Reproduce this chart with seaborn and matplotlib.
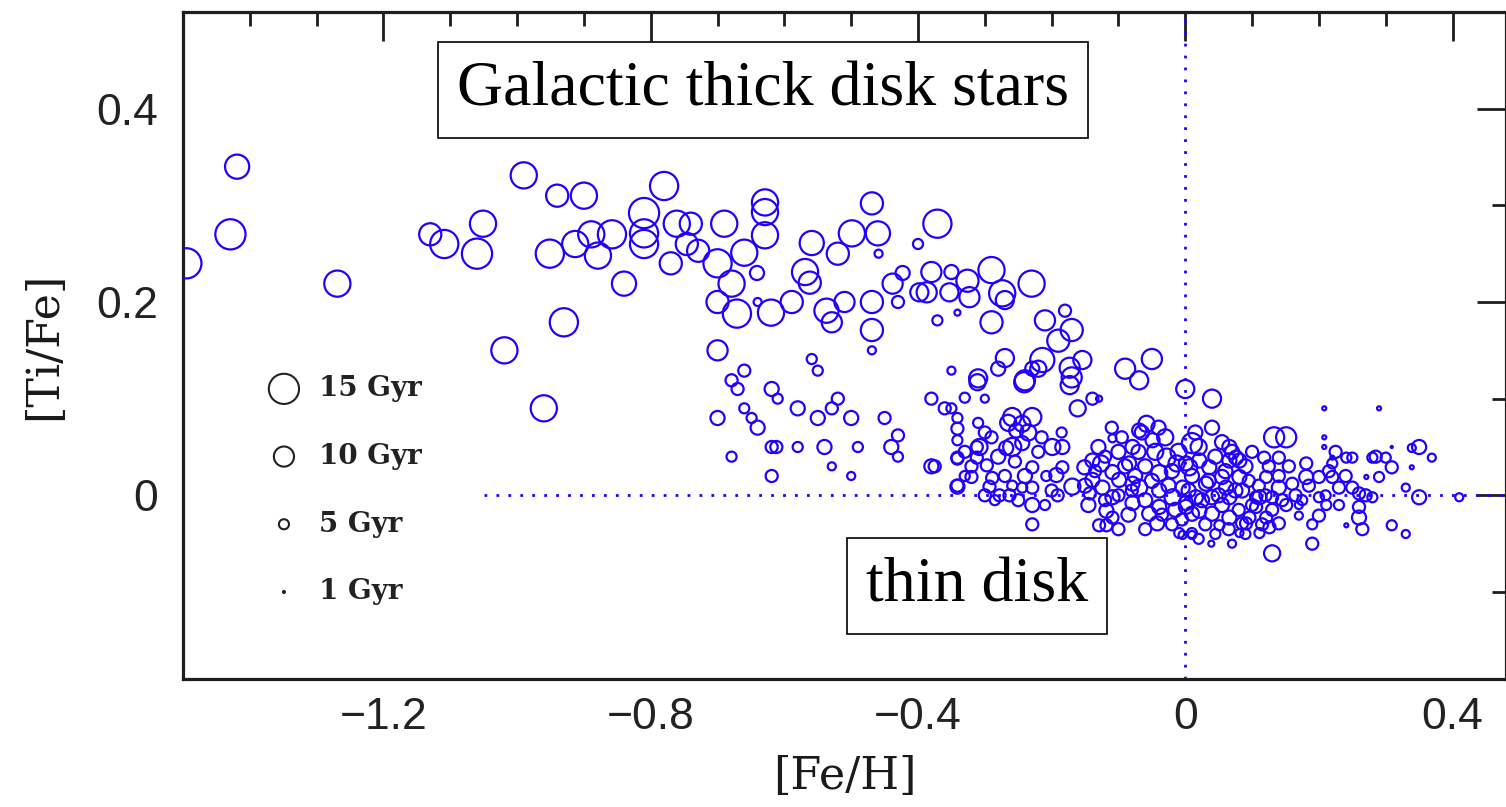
import numpy as np
import pandas as pd
import matplotlib
matplotlib.use("Agg")
import matplotlib.pyplot as plt
from matplotlib.ticker import MultipleLocator, FuncFormatter
import seaborn as sns

# ---------------- data ----------------
# [Fe/H], [Ti/Fe], age in Gyr (symbol size)
feh = [
    -1.495, -1.429, -1.419, -1.269, -1.130, -1.109, -1.051, -1.060, -1.019, -0.990,
    -0.940, -0.900, -0.951, -0.913, -0.889, -0.879, -0.858, -0.840, -0.930, -0.960,
    -0.780, -0.810, -0.810, -0.810, -0.761, -0.740, -0.746, -0.729, -0.770, -0.690,
    -0.700, -0.679, -0.700, -0.671, -0.660, -0.629, -0.629, -0.629, -0.641, -0.620,
    -0.640, -0.589, -0.569, -0.559, -0.562, -0.537, -0.529, -0.520, -0.510, -0.499,
    -0.469, -0.460, -0.459, -0.469, -0.469, -0.469, -0.371, -0.400, -0.438, -0.423,
    -0.398, -0.380, -0.387, -0.350, -0.353, -0.326, -0.323, -0.290, -0.274, -0.290,
    -0.230, -0.270, -0.341, -0.371, -0.430, -0.700,
    -0.210, -0.180, -0.170, -0.190, -0.214, -0.220, -0.173, -0.170, -0.154, -0.173,
    -0.270, -0.280, -0.310, -0.240, -0.229, -0.350, -0.090, -0.069, -0.050, 0.000,
    0.040, 0.040, -0.380, -0.360, -0.350, -0.300, -0.330, -0.139, -0.129, -0.161,
    -0.660, -0.679, -0.670, -0.619, -0.610, -0.559, -0.550, -0.580, -0.520, -0.529,
    -0.550, -0.500, -0.450, -0.700, -0.660, -0.649, -0.640, -0.679, -0.619, -0.612,
    -0.580, -0.540, -0.490, -0.529, -0.619, -0.500, -0.440, -0.430, -0.430, -0.380,
    -0.375, -0.341, -0.341, -0.341, -0.312,
    -0.311, -0.241, -0.259, -0.229, -0.244, -0.253, -0.341, -0.341, -0.308, -0.290,
    -0.259, -0.268, -0.244, -0.199, -0.184, -0.341, -0.312, -0.297, -0.229, -0.320,
    -0.289, -0.341, -0.293, -0.278, -0.263, -0.259, -0.229, -0.244, -0.229, -0.229,
    -0.193, -0.184, -0.169, -0.191, -0.208, -0.151, -0.139, -0.126, -0.109, -0.109,
    -0.139, -0.124, -0.143, -0.109, -0.099, -0.084, -0.079, -0.069, -0.058, -0.049,
    -0.028, -0.039, -0.069, -0.079, -0.118, -0.109, -0.129, -0.118, -0.054, -0.039,
    -0.019, -0.004, 0.001, 0.010, 0.010, -0.042, -0.009, 0.010, -0.013, 0.006,
    -0.039, -0.079, -0.100,
    0.133, 0.151, 0.118, 0.140, 0.208, 0.290, 0.208, 0.208, 0.220, 0.241,
    0.250, 0.280, 0.300, 0.309, 0.350, 0.339, 0.369, 0.309, 0.339, 0.290,
    0.271, 0.330, 0.350, 0.410, 0.309, 0.330, 0.241, 0.260, 0.260, 0.260,
    0.250, 0.280, 0.230, 0.220, 0.200, 0.181, 0.181, 0.220, 0.200, 0.211,
    0.200, 0.190, 0.170, 0.170, 0.151, 0.160, 0.140, 0.121, 0.111, 0.130,
    0.140, 0.130, 0.111, 0.070, 0.039, 0.081, 0.091, 0.051, 0.010, -0.004,
    0.066, 0.076, 0.066, 0.081, 0.021, 0.036, 0.001, 0.055, 0.081, 0.031,
    0.061, 0.085, 0.106, 0.106, 0.096, 0.121, 0.126, 0.016, 0.040, 0.066,
    0.001, 0.021, 0.040, 0.066, 0.085,
    # dense thin-disk clump
    -0.330, -0.320, -0.300, -0.280, -0.270, -0.255, -0.240, -0.220, -0.215, -0.300,
    -0.285, -0.250, -0.200, -0.210, -0.330, -0.235, -0.265, -0.310, -0.185,
    -0.150, -0.145, -0.130, -0.120, -0.100, -0.095, -0.090, -0.085, -0.075, -0.070,
    -0.060, -0.060, -0.050, -0.045, -0.035, -0.030, -0.025, -0.020, -0.015, -0.010,
    -0.005, -0.100, -0.120, -0.135, -0.065, -0.040, -0.020, -0.060, -0.080, -0.110,
    0.005, 0.010, 0.020, 0.025, 0.030, 0.035, 0.045, 0.050, 0.055, 0.060,
    0.065, 0.070, 0.075, 0.080, 0.090, 0.095, 0.100, 0.100, 0.110, 0.115,
    0.120, 0.125, 0.130, 0.140, 0.145, 0.020, 0.045, 0.015, 0.055, 0.090,
    0.155, 0.165, 0.175, 0.185, 0.190, 0.210, 0.215, 0.230, 0.240, 0.265,
    0.270, 0.285, 0.225,
]
tife = [
    0.240, 0.270, 0.340, 0.219, 0.270, 0.260, 0.281, 0.250, 0.150, 0.331,
    0.310, 0.310, 0.250, 0.260, 0.270, 0.248, 0.270, 0.219, 0.179, 0.090,
    0.320, 0.292, 0.271, 0.260, 0.281, 0.281, 0.260, 0.253, 0.240, 0.281,
    0.240, 0.219, 0.200, 0.188, 0.251, 0.303, 0.293, 0.269, 0.230, 0.189,
    0.200, 0.200, 0.231, 0.261, 0.220, 0.191, 0.179, 0.250, 0.200, 0.271,
    0.302, 0.271, 0.250, 0.200, 0.171, 0.150, 0.281, 0.260, 0.219, 0.230,
    0.210, 0.231, 0.210, 0.231, 0.210, 0.222, 0.205, 0.233, 0.209, 0.179,
    0.219, 0.202, 0.189, 0.181, 0.200, 0.150,
    0.181, 0.191, 0.171, 0.160, 0.140, 0.131, 0.132, 0.122, 0.140, 0.114,
    0.142, 0.131, 0.121, 0.119, 0.131, 0.129, 0.131, 0.119, 0.141, 0.110,
    0.100, 0.070, 0.100, 0.090, 0.090, 0.100, 0.101, 0.100, 0.100, 0.090,
    0.129, 0.119, 0.110, 0.110, 0.100, 0.141, 0.129, 0.090, 0.100, 0.090,
    0.080, 0.080, 0.080, 0.080, 0.090, 0.080, 0.070, 0.040, 0.050, 0.050,
    0.050, 0.050, 0.050, 0.030, 0.020, 0.020, 0.050, 0.062, 0.040, 0.030,
    0.030, 0.080, 0.038, 0.010, 0.050,
    0.117, 0.117, 0.081, 0.081, 0.074, 0.067, 0.069, 0.057, 0.050, 0.060,
    0.050, 0.049, 0.054, 0.050, 0.050, 0.039, 0.039, 0.031, 0.029, 0.019,
    0.018, 0.009, 0.009, 0.000, 0.000, 0.010, 0.008, 0.008, -0.010, -0.030,
    0.021, 0.029, 0.009, 0.000, 0.020, 0.029, 0.036, 0.033, 0.024, 0.059,
    0.016, 0.008, 0.002, -0.002, 0.016, 0.033, 0.050, 0.067, 0.074, 0.057,
    0.039, 0.023, 0.008, -0.008, -0.016, -0.023, -0.031, -0.031, -0.019, -0.012,
    -0.002, 0.008, -0.012, 0.054, -0.019, -0.029, -0.039, -0.039, 0.033, 0.029,
    0.005, 0.012, -0.035,
    0.060, 0.060, 0.039, 0.039, 0.090, 0.090, 0.060, 0.050, 0.039, 0.039,
    0.039, 0.039, 0.039, 0.050, 0.050, 0.049, 0.039, 0.029, 0.029, 0.019,
    0.019, 0.008, -0.002, -0.002, -0.031, -0.040, -0.031, -0.023, -0.012, 0.002,
    0.008, -0.002, 0.008, 0.019, 0.019, 0.019, 0.033, 0.033, -0.002, -0.010,
    -0.021, -0.050, -0.010, -0.021, -0.010, 0.012, 0.008, 0.019, -0.002, -0.002,
    -0.029, -0.060, -0.039, -0.050, -0.050, -0.039, -0.029, -0.031, -0.041, -0.041,
    0.050, 0.039, 0.036, 0.036, 0.036, 0.029, 0.033, 0.019, 0.019, 0.012,
    0.008, 0.005, -0.002, -0.012, -0.023, -0.023, -0.033, -0.002, -0.002, -0.002,
    -0.008, -0.016, -0.019, -0.023, -0.029,
    # dense thin-disk clump
    0.045, 0.030, 0.065, 0.040, 0.020, 0.035, 0.020, 0.045, 0.060, 0.000,
    -0.005, -0.005, 0.005, -0.010, 0.020, 0.065, 0.075, 0.075, 0.065,
    0.010, -0.010, 0.050, 0.040, 0.045, 0.060, 0.030, -0.020, 0.020, 0.045,
    0.030, -0.005, 0.015, 0.045, -0.020, 0.060, 0.010, 0.025, -0.015, 0.045,
    -0.025, 0.000, -0.005, 0.025, 0.065, 0.070, -0.030, -0.035, 0.005, 0.070,
    0.005, 0.020, 0.050, -0.005, -0.030, 0.015, 0.040, 0.000, -0.010, 0.025,
    -0.035, 0.045, 0.005, -0.015, 0.030, 0.015, -0.010, 0.045, 0.010, -0.030,
    0.000, 0.030, -0.015, 0.020, -0.005, -0.045, -0.040, 0.065, 0.055, -0.040,
    0.030, 0.000, -0.005, 0.010, -0.030, 0.000, 0.025, -0.010, 0.020, -0.035,
    0.000, 0.040, 0.045,
]
age = [
    15, 15, 12, 13, 11, 14, 13, 15, 13, 13,
    11, 13, 14, 13, 13, 13, 14, 12, 14, 13,
    14, 15, 14, 14, 13, 11, 11, 11, 11, 13,
    14, 13, 11, 14, 13, 13, 13, 13, 7, 13,
    4, 11, 13, 12, 11, 12, 10, 11, 10, 13,
    11, 12, 4, 11, 11, 4, 14, 5, 10, 7,
    9, 10, 10, 7, 9, 11, 10, 13, 13, 11,
    13, 9, 3, 5, 6, 10,
    10, 6, 11, 11, 12, 8, 10, 10, 9, 9,
    9, 7, 9, 10, 7, 4, 10, 9, 10, 9,
    9, 7, 6, 6, 5, 4, 5, 6, 3, 8,
    6, 6, 6, 7, 5, 5, 5, 7, 6, 6,
    7, 7, 6, 7, 5, 5, 7, 5, 6, 6,
    5, 7, 5, 4, 6, 4, 7, 6, 5, 7,
    6, 5, 6, 6, 6,
    8, 10, 9, 9, 8, 7, 6, 5, 8, 6,
    9, 7, 7, 8, 7, 6, 6, 6, 6, 6,
    6, 7, 6, 6, 6, 5, 6, 5, 7, 6,
    7, 6, 8, 6, 5, 7, 7, 8, 7, 4,
    7, 7, 6, 7, 7, 7, 7, 7, 8, 7,
    9, 8, 8, 7, 7, 6, 6, 6, 7, 7,
    8, 7, 7, 10, 7, 7, 5, 5, 8, 8,
    7, 7, 6,
    10, 10, 6, 6, 2, 2, 2, 2, 2, 5,
    5, 5, 5, 1, 7, 4, 4, 6, 2, 5,
    2, 4, 7, 4, 5, 4, 2, 7, 6, 6,
    6, 5, 6, 6, 6, 7, 6, 5, 5, 5,
    6, 6, 4, 4, 6, 6, 7, 6, 7, 6,
    6, 8, 5, 4, 3, 4, 6, 5, 4, 4,
    7, 7, 7, 7, 7, 7, 7, 7, 7, 7,
    7, 7, 6, 6, 6, 6, 6, 7, 7, 7,
    7, 7, 7, 7, 6,
    # dense thin-disk clump
    6, 6, 6, 7, 6, 6, 7, 6, 6, 6,
    5, 6, 6, 5, 5, 8, 8, 5, 5,
    7, 7, 7, 6, 7, 6, 7, 7, 7, 7,
    7, 7, 7, 8, 6, 8, 7, 7, 7, 8,
    6, 6, 6, 6, 7, 7, 6, 6, 6, 6,
    7, 7, 8, 7, 6, 7, 7, 7, 7, 7,
    6, 7, 7, 6, 7, 6, 6, 6, 6, 6,
    6, 6, 6, 6, 6, 5, 5, 7, 7, 5,
    6, 6, 5, 6, 5, 5, 6, 5, 6, 6,
    6, 6, 6,
]

legend_ages = [15, 10, 5, 1]
legend_labels = ["15 Gyr", "10 Gyr", "5 Gyr", "1 Gyr"]

x_ticks = [-1.2, -0.8, -0.4, 0.0, 0.4]
y_ticks = [0.0, 0.2, 0.4]

df = pd.DataFrame({"feh": feh, "tife": tife, "age": age})

# ---------------- style ----------------
sns.set_theme(style="white")
plt.rcParams["font.family"] = ["DejaVu Sans"]

BLUE = "#2200ff"
DARK = "#1e1e1e"


def area(a):
    # marker area (pt^2) so that the diameter grows linearly with age
    return (1.45 * a) ** 2


fig = plt.figure(figsize=(15.06, 8.07), dpi=100)
ax = fig.add_axes([183 / 1506, (807 - 679) / 807, 1323 / 1506, 667 / 807])

size_map = {a: area(a) for a in sorted(set(age))}
sns.scatterplot(
    data=df, x="feh", y="tife", size="age", sizes=size_map,
    marker="o", facecolor="none", edgecolor=BLUE, linewidth=1.6,
    legend=False, ax=ax, zorder=3,
)

ax.set_xlim(-1.5, 0.48)
ax.set_ylim(-0.19, 0.5)

# dotted reference lines
ax.axvline(0.0, color=BLUE, lw=2.0, ls=(0, (1, 3.3)), zorder=2)
ax.hlines(0.0, -1.05, 0.48, color=BLUE, lw=2.0, ls=(0, (1, 3.3)), zorder=2)

# ticks
ax.xaxis.set_minor_locator(MultipleLocator(0.1))
ax.yaxis.set_minor_locator(MultipleLocator(0.1))
ax.set_xticks(x_ticks)
ax.set_yticks(y_ticks)


def fmt(v, pos):
    v = round(v, 6)
    if v == 0:
        return "0"
    return f"{v:g}".replace("-", "\u2212")


ax.xaxis.set_major_formatter(FuncFormatter(fmt))
ax.yaxis.set_major_formatter(FuncFormatter(fmt))
ax.tick_params(which="both", direction="in", top=True, right=True,
               color=DARK, labelcolor="#222222")
ax.tick_params(which="major", length=21, width=2.0, labelsize=32)
ax.tick_params(which="minor", length=10, width=2.0)
ax.tick_params(axis="x", which="major", pad=13)
ax.tick_params(axis="y", which="major", pad=18)
for lab in ax.get_xticklabels() + ax.get_yticklabels():
    lab.set_family("Liberation Sans")

for sp in ax.spines.values():
    sp.set_linewidth(2.3)
    sp.set_color(DARK)

ax.set_xlabel("[Fe/H]", family="DejaVu Serif", fontsize=32, labelpad=12,
              color="#1a1a1a")
ax.set_ylabel("[Ti/Fe]", family="DejaVu Serif", fontsize=32, labelpad=22,
              color="#1a1a1a")

# size legend
for i, (a, lab) in enumerate(zip(legend_ages, legend_labels)):
    yy = 0.435 - i * 0.1015
    ax.scatter([0.0763], [yy], s=area(a), facecolor="none", edgecolor="#222222",
               linewidth=1.5, transform=ax.transAxes, zorder=4, clip_on=False)
    ax.text(0.1025, yy, lab, transform=ax.transAxes, family="DejaVu Serif",
            fontweight="bold", fontsize=20, va="center", ha="left", color="#222222")

# annotation boxes
box = dict(boxstyle="square,pad=0.3", facecolor="white", edgecolor="black", linewidth=1.2)
ax.text(-0.632, 0.419, "Galactic thick disk stars", family="Liberation Serif",
        fontsize=46, ha="center", va="center", bbox=box, zorder=5, color="black")
ax.text(-0.312, -0.094, "thin disk", family="Liberation Serif",
        fontsize=46, ha="center", va="center", bbox=box, zorder=5, color="black")

fig.savefig("out.png", dpi=100)
